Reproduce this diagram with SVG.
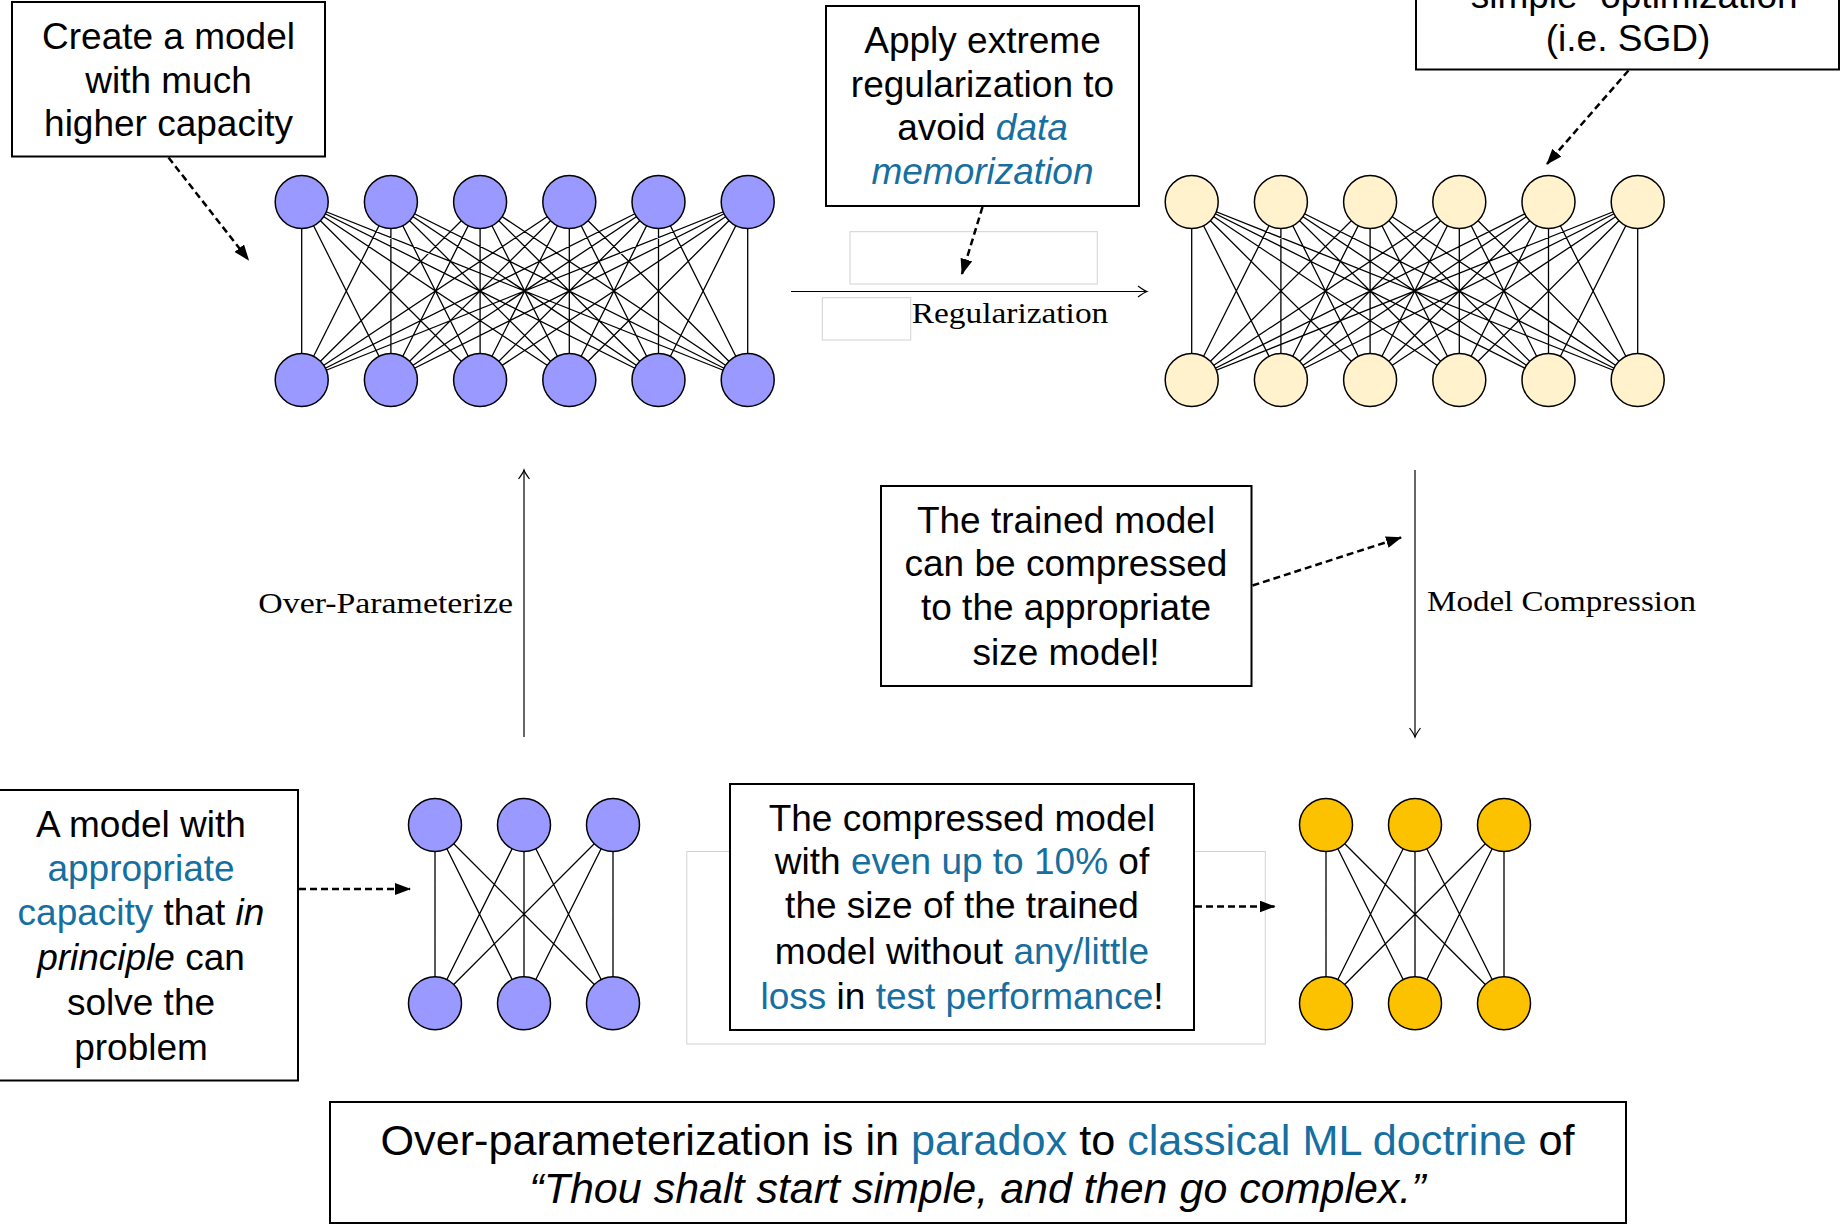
<svg xmlns="http://www.w3.org/2000/svg" width="1841" height="1225" viewBox="0 0 1841 1225">
  <style>
    .box{fill:#fff;stroke:#000;stroke-width:2}
    .ghost{fill:none;stroke:#d2d2d2;stroke-width:1}
    .cap{font-family:"Liberation Sans",Arial,Helvetica,sans-serif;font-size:37px;fill:#000;text-anchor:middle}
    .big{font-size:43px}
    .hl{fill:#166fa0}
    .it{font-style:italic}
    .tex{font-family:"Liberation Serif","Times New Roman",serif;font-size:29px;fill:#000}
    .edge{fill:none;stroke:#000;stroke-width:1.3}
    .purple{fill:#9999ff;stroke:#000;stroke-width:1.5}
    .cream{fill:#fff2cc;stroke:#000;stroke-width:1.5}
    .gold{fill:#fcc200;stroke:#000;stroke-width:1.5}
    .dash{fill:none;stroke:#000;stroke-width:2.5;stroke-dasharray:7 4;marker-end:url(#head)}
    .thin{fill:none;stroke:#000;stroke-width:1.2;marker-end:url(#texhead)}
  </style>
  <defs>
    <marker id="head" viewBox="0 0 16 12" refX="15" refY="6" markerWidth="16" markerHeight="12" markerUnits="userSpaceOnUse" orient="auto">
      <path d="M0,0 L16,6 L0,12 z" fill="#000"/>
    </marker>
    <marker id="texhead" viewBox="-11 -7 13 14" refX="0" refY="0" markerWidth="13" markerHeight="14" markerUnits="userSpaceOnUse" orient="auto">
      <path d="M-9,-5.5 Q-3,-1 0,0 Q-3,1 -9,5.5" fill="none" stroke="#000" stroke-width="1.2"/>
    </marker>
    <!-- fully connected 6x6 layer -->
    <path id="edges6" class="edge" d="M301.7,202 L301.7,380 M301.7,202 L390.9,380 M301.7,202 L480.1,380 M301.7,202 L569.3,380 M301.7,202 L658.5,380 M301.7,202 L747.7,380
      M390.9,202 L301.7,380 M390.9,202 L390.9,380 M390.9,202 L480.1,380 M390.9,202 L569.3,380 M390.9,202 L658.5,380 M390.9,202 L747.7,380
      M480.1,202 L301.7,380 M480.1,202 L390.9,380 M480.1,202 L480.1,380 M480.1,202 L569.3,380 M480.1,202 L658.5,380 M480.1,202 L747.7,380
      M569.3,202 L301.7,380 M569.3,202 L390.9,380 M569.3,202 L480.1,380 M569.3,202 L569.3,380 M569.3,202 L658.5,380 M569.3,202 L747.7,380
      M658.5,202 L301.7,380 M658.5,202 L390.9,380 M658.5,202 L480.1,380 M658.5,202 L569.3,380 M658.5,202 L658.5,380 M658.5,202 L747.7,380
      M747.7,202 L301.7,380 M747.7,202 L390.9,380 M747.7,202 L480.1,380 M747.7,202 L569.3,380 M747.7,202 L658.5,380 M747.7,202 L747.7,380"/>
    <!-- fully connected 3x3 layer -->
    <path id="edges3" class="edge" d="M435,825 L435,1003.3 M435,825 L524,1003.3 M435,825 L613,1003.3
      M524,825 L435,1003.3 M524,825 L524,1003.3 M524,825 L613,1003.3
      M613,825 L435,1003.3 M613,825 L524,1003.3 M613,825 L613,1003.3"/>
    <g id="nodes6">
      <circle cx="301.7" cy="202" r="26.5"/><circle cx="390.9" cy="202" r="26.5"/><circle cx="480.1" cy="202" r="26.5"/>
      <circle cx="569.3" cy="202" r="26.5"/><circle cx="658.5" cy="202" r="26.5"/><circle cx="747.7" cy="202" r="26.5"/>
      <circle cx="301.7" cy="380" r="26.5"/><circle cx="390.9" cy="380" r="26.5"/><circle cx="480.1" cy="380" r="26.5"/>
      <circle cx="569.3" cy="380" r="26.5"/><circle cx="658.5" cy="380" r="26.5"/><circle cx="747.7" cy="380" r="26.5"/>
    </g>
    <g id="nodes3">
      <circle cx="435" cy="825" r="26.5"/><circle cx="524" cy="825" r="26.5"/><circle cx="613" cy="825" r="26.5"/>
      <circle cx="435" cy="1003.3" r="26.5"/><circle cx="524" cy="1003.3" r="26.5"/><circle cx="613" cy="1003.3" r="26.5"/>
    </g>
  </defs>

  <rect width="1841" height="1225" fill="#fff"/>

  <!-- networks -->
  <g id="net-overparam">
    <use href="#edges6"/>
    <use href="#nodes6" class="purple"/>
  </g>
  <g id="net-regularized">
    <use href="#edges6" x="890"/>
    <use href="#nodes6" x="890" class="cream"/>
  </g>
  <g id="net-appropriate">
    <use href="#edges3"/>
    <use href="#nodes3" class="purple"/>
  </g>
  <g id="net-compressed">
    <use href="#edges3" x="891"/>
    <use href="#nodes3" x="891" class="gold"/>
  </g>

  <!-- faint placeholder frames -->
  <g id="frames">
    <rect class="ghost" x="850" y="231.7" width="247.3" height="52.3"/>
    <rect class="ghost" x="822.3" y="297.7" width="88.4" height="42.3"/>
    <rect class="ghost" x="686.8" y="851.5" width="578.5" height="192.5"/>
  </g>

  <!-- connectors -->
  <g id="connectors">
    <path class="thin" d="M791,291.5 H1147"/>
    <path class="thin" d="M524,737 V470"/>
    <path class="thin" d="M1415,470 V737"/>
    <path class="dash" d="M168.5,157.5 L248.5,260"/>
    <path class="dash" d="M982.5,207 L962,274"/>
    <path class="dash" d="M1628.5,70.5 L1547,164"/>
    <path class="dash" d="M1252.5,585.5 L1401,537.5"/>
    <path class="dash" d="M299,889 L410,889"/>
    <path class="dash" d="M1195,906.5 L1274.5,906.5"/>
  </g>

  <!-- arrow labels -->
  <g id="labels">
    <text class="tex" x="911.7" y="323.3" textLength="196.6" lengthAdjust="spacingAndGlyphs">Regularization</text>
    <text class="tex" x="258.3" y="613" textLength="254.7" lengthAdjust="spacingAndGlyphs">Over-Parameterize</text>
    <text class="tex" x="1427" y="611" textLength="269" lengthAdjust="spacingAndGlyphs">Model Compression</text>
  </g>

  <!-- callouts -->
  <g id="note-capacity">
    <rect class="box" x="12" y="2" width="313" height="154.5"/>
    <text class="cap" x="168.5" y="49">Create a model</text>
    <text class="cap" x="168.5" y="92.5">with much</text>
    <text class="cap" x="168.5" y="136">higher capacity</text>
  </g>

  <g id="note-regularization">
    <rect class="box" x="826" y="6" width="313" height="200"/>
    <text class="cap" x="982.5" y="53">Apply extreme</text>
    <text class="cap" x="982.5" y="96.5">regularization to</text>
    <text class="cap" x="982.5" y="140">avoid <tspan class="hl it">data</tspan></text>
    <text class="cap" x="982.5" y="183.5"><tspan class="hl it">memorization</tspan></text>
  </g>

  <g id="note-sgd">
    <rect class="box" x="1416" y="-10" width="423" height="79.5"/>
    <text class="cap" x="1628" y="8">“simple” optimization</text>
    <text class="cap" x="1628" y="50.5">(i.e. SGD)</text>
  </g>

  <g id="note-compress">
    <rect class="box" x="881" y="486" width="370.5" height="200"/>
    <text class="cap" x="1066" y="532.5">The trained model</text>
    <text class="cap" x="1066" y="576">can be compressed</text>
    <text class="cap" x="1066" y="620">to the appropriate</text>
    <text class="cap" x="1066" y="664.5">size model!</text>
  </g>

  <g id="note-appropriate">
    <rect class="box" x="-16" y="790" width="314" height="290.5"/>
    <text class="cap" x="141" y="836.5">A model with</text>
    <text class="cap" x="141" y="880.5"><tspan class="hl">appropriate</tspan></text>
    <text class="cap" x="141" y="925"><tspan class="hl">capacity</tspan> that <tspan class="it">in</tspan></text>
    <text class="cap" x="141" y="970"><tspan class="it">principle</tspan> can</text>
    <text class="cap" x="141" y="1014.5">solve the</text>
    <text class="cap" x="141" y="1059.5">problem</text>
  </g>

  <g id="note-result">
    <rect class="box" x="730" y="784" width="464" height="246"/>
    <text class="cap" x="962" y="831">The compressed model</text>
    <text class="cap" x="962" y="873.5">with <tspan class="hl">even up to 10%</tspan> of</text>
    <text class="cap" x="962" y="918">the size of the trained</text>
    <text class="cap" x="962" y="964">model without <tspan class="hl">any/little</tspan></text>
    <text class="cap" x="962" y="1008.5"><tspan class="hl">loss</tspan> in <tspan class="hl">test performance</tspan>!</text>
  </g>

  <g id="note-paradox">
    <rect class="box" x="330" y="1102" width="1296" height="121"/>
    <text class="cap big" x="977.5" y="1155" textLength="1194" lengthAdjust="spacingAndGlyphs">Over-parameterization is in <tspan class="hl">paradox</tspan> to <tspan class="hl">classical ML doctrine</tspan> of</text>
    <text class="cap big it" x="977.5" y="1203">“Thou shalt start simple, and then go complex.”</text>
  </g>
</svg>
